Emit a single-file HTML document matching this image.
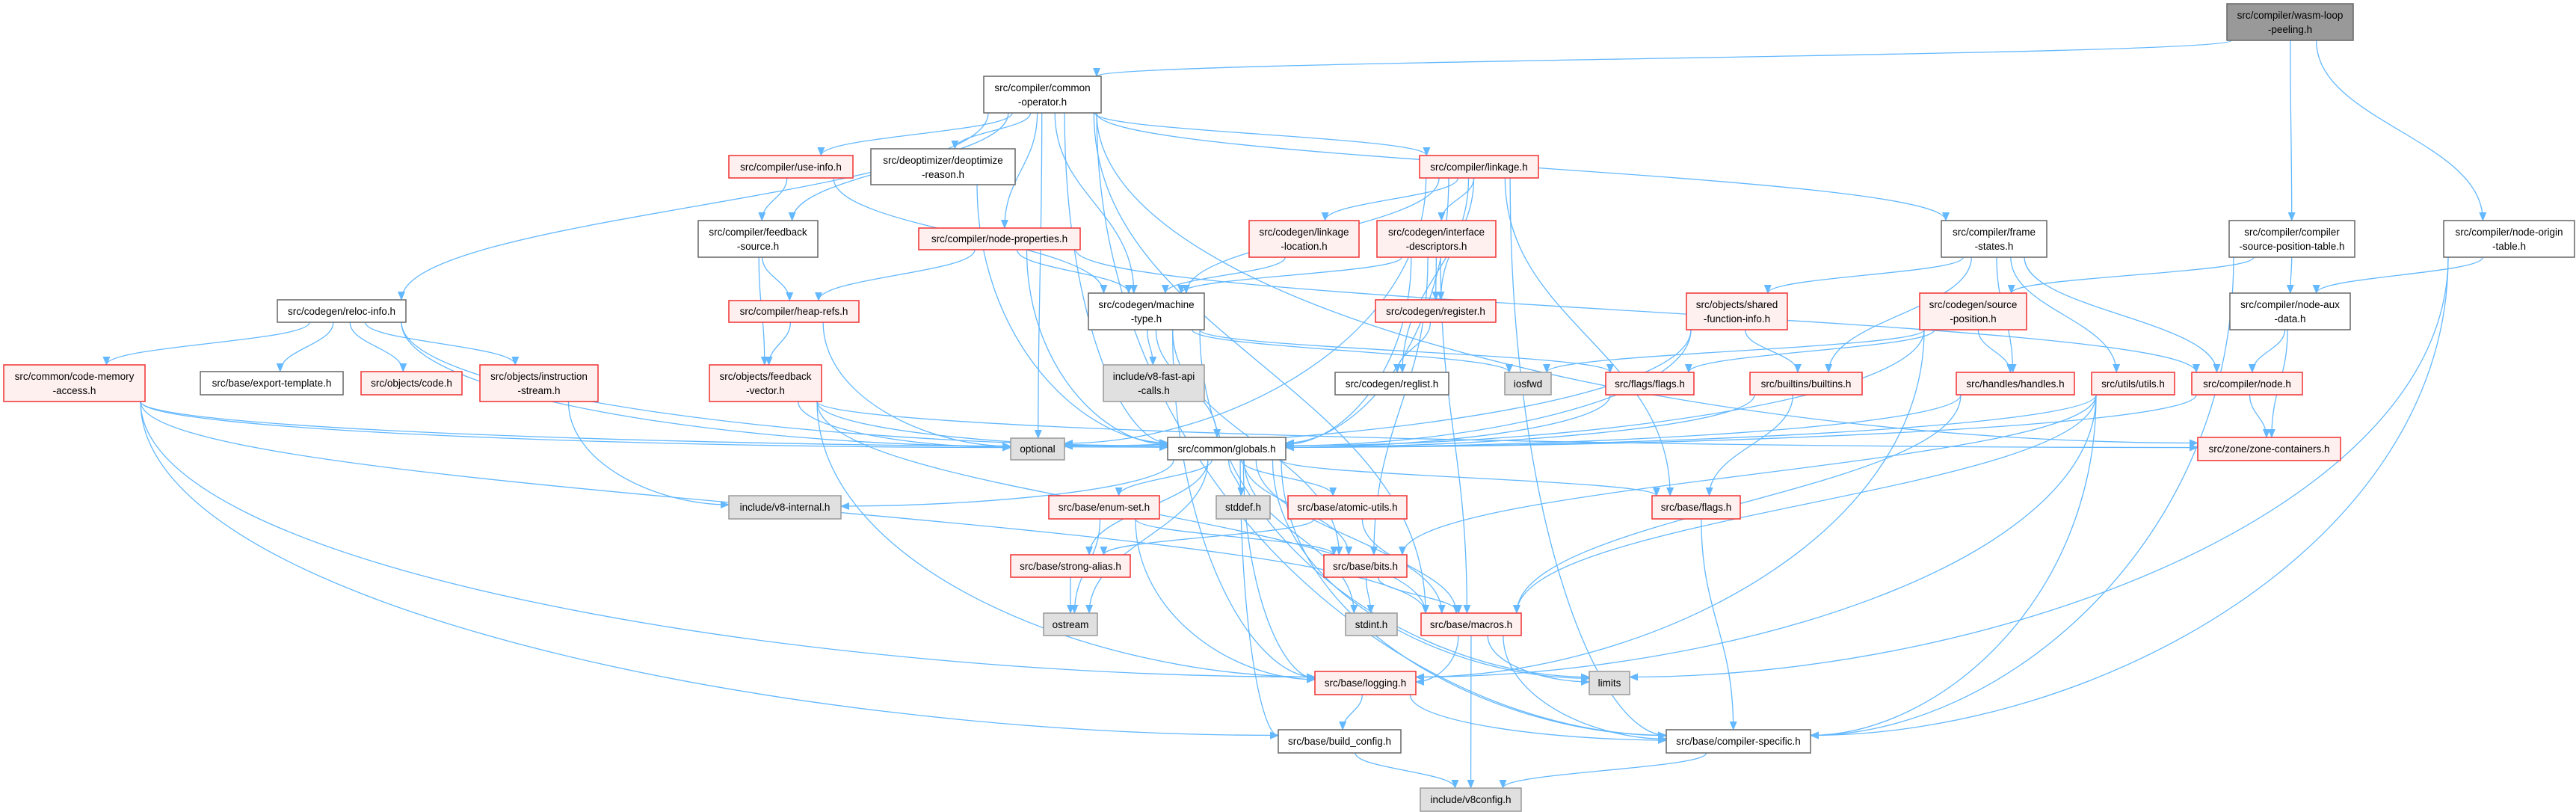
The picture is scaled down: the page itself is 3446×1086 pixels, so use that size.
<!DOCTYPE html>
<html><head><meta charset="utf-8">
<style>
html,body{margin:0;padding:0;background:#fff;}
svg{display:block;}
text{font-family:"Liberation Sans","DejaVu Sans",sans-serif;font-size:13.5px;fill:#000;text-anchor:middle;}
.w rect{fill:#fff;stroke:#666;stroke-width:1.5}
.r rect{fill:#FFF0F0;stroke:#F03030;stroke-width:1.5}
.g rect{fill:#E0E0E0;stroke:#999;stroke-width:1.5}
.k rect{fill:#999;stroke:#666;stroke-width:1.5}
</style></head>
<body>
<svg id="s" width="3446" height="1086" viewBox="0 0 3446 1086" xmlns="http://www.w3.org/2000/svg">
<defs><marker id="a" markerWidth="12" markerHeight="10" refX="11" refY="5" orient="auto" markerUnits="userSpaceOnUse"><path d="M0,0 L12,5 L0,10 z" fill="#63B8FF"/></marker></defs>
<g id="edges" fill="none" stroke="#63B8FF" stroke-width="1.3"></g>
<g id="nodes">
<g class="k"><rect x="2979" y="5" width="169" height="49"/><text x="3063.5" y="25">src/compiler/wasm-loop</text><text x="3063.5" y="44">-peeling.h</text></g>
<g class="w"><rect x="1316" y="102" width="157" height="49"/><text x="1394.5" y="122">src/compiler/common</text><text x="1394.5" y="141">-operator.h</text></g>
<g class="r"><rect x="975" y="208" width="166" height="30"/><text x="1058" y="228">src/compiler/use-info.h</text></g>
<g class="w"><rect x="1165" y="199" width="193" height="48"/><text x="1261.5" y="219">src/deoptimizer/deoptimize</text><text x="1261.5" y="238">-reason.h</text></g>
<g class="r"><rect x="1899" y="208" width="159" height="30"/><text x="1978.5" y="228">src/compiler/linkage.h</text></g>
<g class="w"><rect x="934" y="295" width="160" height="49"/><text x="1014" y="315">src/compiler/feedback</text><text x="1014" y="334">-source.h</text></g>
<g class="r"><rect x="1229" y="305" width="216" height="29"/><text x="1337" y="324">src/compiler/node-properties.h</text></g>
<g class="r"><rect x="1671" y="295" width="147" height="49"/><text x="1744.5" y="315">src/codegen/linkage</text><text x="1744.5" y="334">-location.h</text></g>
<g class="r"><rect x="1842" y="295" width="159" height="49"/><text x="1921.5" y="315">src/codegen/interface</text><text x="1921.5" y="334">-descriptors.h</text></g>
<g class="w"><rect x="2597" y="295" width="141" height="49"/><text x="2667.5" y="315">src/compiler/frame</text><text x="2667.5" y="334">-states.h</text></g>
<g class="w"><rect x="2982" y="295" width="168" height="49"/><text x="3066" y="315">src/compiler/compiler</text><text x="3066" y="334">-source-position-table.h</text></g>
<g class="w"><rect x="3269" y="295" width="175" height="49"/><text x="3356.5" y="315">src/compiler/node-origin</text><text x="3356.5" y="334">-table.h</text></g>
<g class="w"><rect x="371" y="401" width="172" height="30"/><text x="457" y="421">src/codegen/reloc-info.h</text></g>
<g class="r"><rect x="975" y="402" width="174" height="29"/><text x="1062" y="421">src/compiler/heap-refs.h</text></g>
<g class="w"><rect x="1456" y="392" width="155" height="49"/><text x="1533.5" y="412">src/codegen/machine</text><text x="1533.5" y="431">-type.h</text></g>
<g class="r"><rect x="1840" y="401" width="161" height="30"/><text x="1920.5" y="421">src/codegen/register.h</text></g>
<g class="r"><rect x="2256" y="392" width="135" height="49"/><text x="2323.5" y="412">src/objects/shared</text><text x="2323.5" y="431">-function-info.h</text></g>
<g class="r"><rect x="2568" y="392" width="143" height="49"/><text x="2639.5" y="412">src/codegen/source</text><text x="2639.5" y="431">-position.h</text></g>
<g class="w"><rect x="2983" y="392" width="161" height="49"/><text x="3063.5" y="412">src/compiler/node-aux</text><text x="3063.5" y="431">-data.h</text></g>
<g class="r"><rect x="5" y="488" width="189" height="49"/><text x="99.5" y="508">src/common/code-memory</text><text x="99.5" y="527">-access.h</text></g>
<g class="w"><rect x="268" y="497" width="191" height="31"/><text x="363.5" y="517">src/base/export-template.h</text></g>
<g class="r"><rect x="483" y="497" width="135" height="31"/><text x="550.5" y="517">src/objects/code.h</text></g>
<g class="r"><rect x="642" y="488" width="158" height="49"/><text x="721" y="508">src/objects/instruction</text><text x="721" y="527">-stream.h</text></g>
<g class="r"><rect x="949" y="488" width="150" height="49"/><text x="1024" y="508">src/objects/feedback</text><text x="1024" y="527">-vector.h</text></g>
<g class="g"><rect x="1476" y="488" width="135" height="49"/><text x="1543.5" y="508">include/v8-fast-api</text><text x="1543.5" y="527">-calls.h</text></g>
<g class="w"><rect x="1786" y="498" width="152" height="30"/><text x="1862" y="518">src/codegen/reglist.h</text></g>
<g class="g"><rect x="2013" y="498" width="62" height="30"/><text x="2044" y="518">iosfwd</text></g>
<g class="r"><rect x="2148" y="498" width="118" height="30"/><text x="2207" y="518">src/flags/flags.h</text></g>
<g class="r"><rect x="2341" y="498" width="150" height="30"/><text x="2416" y="518">src/builtins/builtins.h</text></g>
<g class="r"><rect x="2617" y="498" width="158" height="30"/><text x="2696" y="518">src/handles/handles.h</text></g>
<g class="r"><rect x="2798" y="498" width="111" height="30"/><text x="2853.5" y="518">src/utils/utils.h</text></g>
<g class="r"><rect x="2932" y="498" width="148" height="30"/><text x="3006" y="518">src/compiler/node.h</text></g>
<g class="g"><rect x="1352" y="586" width="72" height="29"/><text x="1388" y="605">optional</text></g>
<g class="w"><rect x="1562" y="585" width="158" height="30"/><text x="1641" y="605">src/common/globals.h</text></g>
<g class="r"><rect x="2940" y="585" width="191" height="31"/><text x="3035.5" y="605">src/zone/zone-containers.h</text></g>
<g class="g"><rect x="975" y="663" width="150" height="31"/><text x="1050" y="683">include/v8-internal.h</text></g>
<g class="r"><rect x="1403" y="663" width="148" height="31"/><text x="1477" y="683">src/base/enum-set.h</text></g>
<g class="g"><rect x="1627" y="663" width="72" height="31"/><text x="1663" y="683">stddef.h</text></g>
<g class="r"><rect x="1723" y="663" width="159" height="31"/><text x="1802.5" y="683">src/base/atomic-utils.h</text></g>
<g class="r"><rect x="2210" y="663" width="118" height="31"/><text x="2269" y="683">src/base/flags.h</text></g>
<g class="r"><rect x="1352" y="742" width="160" height="30"/><text x="1432" y="762">src/base/strong-alias.h</text></g>
<g class="r"><rect x="1771" y="742" width="111" height="30"/><text x="1826.5" y="762">src/base/bits.h</text></g>
<g class="g"><rect x="1396" y="820" width="72" height="30"/><text x="1432" y="840">ostream</text></g>
<g class="g"><rect x="1800" y="820" width="69" height="30"/><text x="1834.5" y="840">stdint.h</text></g>
<g class="r"><rect x="1901" y="820" width="134" height="30"/><text x="1968" y="840">src/base/macros.h</text></g>
<g class="r"><rect x="1759" y="898" width="135" height="31"/><text x="1826.5" y="918">src/base/logging.h</text></g>
<g class="g"><rect x="2126" y="898" width="54" height="31"/><text x="2153" y="918">limits</text></g>
<g class="w"><rect x="1710" y="976" width="164" height="31"/><text x="1792" y="996">src/base/build_config.h</text></g>
<g class="w"><rect x="2229" y="976" width="193" height="31"/><text x="2325.5" y="996">src/base/compiler-specific.h</text></g>
<g class="g"><rect x="1900" y="1054" width="135" height="31"/><text x="1967.5" y="1074">include/v8config.h</text></g>
</g>
</svg>
<script>
var N={wasm:[2979,5,3148,54],cop:[1316,102,1473,151],useinfo:[975,208,1141,238],deopt:[1165,199,1358,247],linkage:[1899,208,2058,238],fsrc:[934,295,1094,344],nprops:[1229,305,1445,334],lloc:[1671,295,1818,344],idesc:[1842,295,2001,344],fstates:[2597,295,2738,344],cspt:[2982,295,3150,344],not:[3269,295,3444,344],reloc:[371,401,543,431],heap:[975,402,1149,431],mtype:[1456,392,1611,441],reg:[1840,401,2001,431],sfi:[2256,392,2391,441],spos:[2568,392,2711,441],aux:[2983,392,3144,441],cma:[5,488,194,537],exptpl:[268,497,459,528],code:[483,497,618,528],istream:[642,488,800,537],fvec:[949,488,1099,537],v8fast:[1476,488,1611,537],reglist:[1786,498,1938,528],iosfwd:[2013,498,2075,528],fflags:[2148,498,2266,528],builtins:[2341,498,2491,528],handles:[2617,498,2775,528],utils:[2798,498,2909,528],node:[2932,498,3080,528],optional:[1352,586,1424,615],globals:[1562,585,1720,615],zone:[2940,585,3131,616],v8int:[975,663,1125,694],enumset:[1403,663,1551,694],stddef:[1627,663,1699,694],atomic:[1723,663,1882,694],bflags:[2210,663,2328,694],strong:[1352,742,1512,772],bits:[1771,742,1882,772],ostream:[1396,820,1468,850],stdint:[1800,820,1869,850],macros:[1901,820,2035,850],logging:[1759,898,1894,929],limits:[2126,898,2180,929],bcfg:[1710,976,1874,1007],cspec:[2229,976,2422,1007],v8config:[1900,1054,2035,1085]};
var E=[["wasm","cop"],["wasm","cspt"],["wasm","not"],
["cop","reloc"],["cop","useinfo"],["cop","fsrc"],["cop","deopt"],["cop","nprops"],["cop","mtype"],["cop","linkage"],["cop","fstates"],["cop","globals"],["cop","optional"],["cop","zone"],["cop","cspec"],["cop","macros"],
["useinfo","fsrc"],["useinfo","mtype"],["fsrc","heap"],["fsrc","fvec"],["heap","fvec"],["heap","optional"],
["fvec","globals"],["fvec","optional"],["fvec","zone"],["fvec","logging"],["fvec","macros"],
["reloc","cma"],["reloc","exptpl"],["reloc","code"],["reloc","istream"],["reloc","globals"],["reloc","optional"],
["cma","globals"],["cma","optional"],["cma","bcfg"],["cma","macros"],["cma","logging"],["istream","v8int"],
["deopt","globals"],["nprops","heap"],["nprops","mtype"],["nprops","globals"],["nprops","node"],
["linkage","lloc"],["linkage","idesc"],["linkage","mtype"],["linkage","reg"],["linkage","reglist"],["linkage","globals"],["linkage","bflags"],["linkage","cspec"],["linkage","optional"],
["lloc","mtype"],["idesc","mtype"],["idesc","reg"],["idesc","globals"],["idesc","macros"],["idesc","bits"],["reg","reglist"],
["mtype","v8fast"],["mtype","globals"],["mtype","iosfwd"],["mtype","fflags"],["mtype","logging"],["mtype","limits"],["mtype","bits"],
["fstates","sfi"],["fstates","builtins"],["fstates","handles"],["fstates","utils"],["fstates","node"],
["sfi","builtins"],["sfi","globals"],["sfi","optional"],
["cspt","spos"],["cspt","aux"],["cspt","cspec"],["not","aux"],["not","limits"],["not","cspec"],
["spos","fflags"],["spos","handles"],["spos","iosfwd"],["spos","globals"],["spos","logging"],
["aux","node"],["aux","zone"],["builtins","bflags"],["builtins","globals"],["fflags","globals"],
["handles","globals"],["handles","macros"],["utils","globals"],["utils","bits"],["utils","macros"],["utils","logging"],["utils","cspec"],
["node","globals"],["node","zone"],
["globals","v8int"],["globals","enumset"],["globals","stddef"],["globals","atomic"],["globals","bflags"],["globals","strong"],["globals","bits"],["globals","ostream"],["globals","stdint"],["globals","macros"],["globals","logging"],["globals","limits"],["globals","bcfg"],["globals","cspec"],
["enumset","bits"],["enumset","ostream"],["enumset","logging"],["atomic","strong"],["atomic","macros"],["strong","ostream"],
["bits","stdint"],["bits","macros"],["macros","logging"],["macros","limits"],["macros","v8config"],["macros","cspec"],
["logging","bcfg"],["logging","cspec"],["bcfg","v8config"],["cspec","v8config"],["bflags","cspec"]];
var SIDE={globals:1,optional:1,zone:1,cspec:1,bcfg:1,logging:1,limits:1,v8int:1};
var g=document.getElementById("edges"),ns="http://www.w3.org/2000/svg";
function cl(v,a,b){return Math.max(a,Math.min(b,v));}
E.forEach(function(e){var a=N[e[0]],b=N[e[1]];
var acx=(a[0]+a[2])/2,bcx=(b[0]+b[2])/2,d,bw=b[2]-b[0];
var sx=acx+cl((bcx-acx)*0.12,-(a[2]-a[0])/2+6,(a[2]-a[0])/2-6),sy=a[3];
if(b[1]>a[3]+5 && SIDE[e[1]] && Math.abs(bcx-acx)>bw*0.5+40){
var left=acx<bcx;var ex=left?b[0]:b[2];var ey=(b[1]+b[3])/2+cl((a[1]-b[1])*0.02,-8,8);
var dx=ex-sx;
d="M"+sx+","+sy+" C"+sx+","+(sy+(ey-sy)*0.6)+" "+(ex-dx*0.45)+","+ey+" "+ex+","+ey;
}else if(b[1]>a[3]+5){
var ex=bcx+cl((acx-bcx)*0.12,-bw/2+6,bw/2-6);
var ey=b[1],dy=(ey-sy)*0.45;
d="M"+sx+","+sy+" C"+sx+","+(sy+dy)+" "+ex+","+(ey-dy)+" "+ex+","+ey;
}else{
var left=acx>bcx;sx=left?a[0]:a[2];var ex=left?b[2]:b[0];sy=(a[1]+a[3])/2;var ey=(b[1]+b[3])/2;
var mx=(sx+ex)/2;d="M"+sx+","+sy+" C"+mx+","+sy+" "+mx+","+ey+" "+ex+","+ey;}
var p=document.createElementNS(ns,"path");p.setAttribute("d",d);p.setAttribute("marker-end","url(#a)");g.appendChild(p);});
</script>
</body></html>
